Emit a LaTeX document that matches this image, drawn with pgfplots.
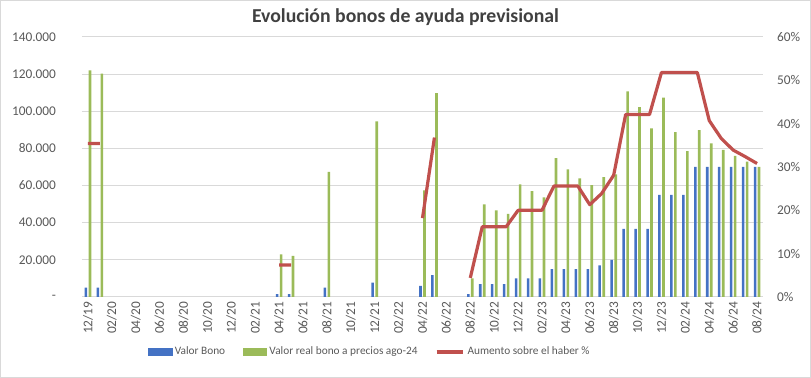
\documentclass[border=0pt]{standalone}
\usepackage{pgfplots}
\pgfplotsset{compat=1.18}
\usepackage{pgfplotstable}
\usepackage{fontspec}
\setmainfont{Carlito}
\definecolor{cblue}{HTML}{4472C4}
\definecolor{cgreen}{HTML}{9BBB59}
\definecolor{cred}{HTML}{C0504D}
\definecolor{ctext}{HTML}{595959}
\definecolor{ctitle}{HTML}{404040}
\definecolor{cgrid}{HTML}{D9D9D9}
\pgfplotstableread{
i bono real pct
0 5000 122000 35.4
1 5000 120300 35.4
2 nan nan nan
16 1500 23000 7.4
17 1500 22100 7.4
20 5100 67300 nan
24 7800 94600 nan
28 6000 57400 18.2
29 11800 109800 36.8
30 nan nan nan
32 1500 10000 4.4
33 6900 49800 16.2
34 6900 46700 16.2
35 6900 44700 16.2
36 10000 60600 20.0
37 10000 57000 20.0
38 10000 53700 20.0
39 15000 74700 25.6
40 15000 68700 25.6
41 15000 63900 25.6
42 15000 60200 21.3
43 17000 64600 23.9
44 20000 66000 28.1
45 36700 110700 42.1
46 36700 102200 42.1
47 36700 90800 42.1
48 55000 107300 51.8
49 55000 88800 51.8
50 55000 78500 51.8
51 70000 89900 51.8
52 70000 82700 40.7
53 70000 79200 36.6
54 70000 76000 33.9
55 70000 72900 32.4
56 70000 70000 30.8
}\data
\begin{document}
\begin{tikzpicture}
\draw[cgrid, line width=0.75pt] (0.4pt,0.4pt) rectangle (607.85pt,283.1pt);
\node[font=\fontsize{14.8}{17}\selectfont\bfseries, text=ctitle] at (304.1pt,270.75pt) {Evolución bonos de ayuda previsional};
\begin{axis}[
  at={(61.5pt,60.75pt)}, anchor=south west,
  width=510.75pt, height=195pt, scale only axis,
  xmin=-0.5, xmax=56.5, ymin=0, ymax=140000,
  axis x line*=bottom, axis y line*=left,
  y axis line style={draw=none},
  x axis line style={draw=cgrid, line width=0.75pt, -},
  major tick length=0pt,
  ymajorgrids, grid style={draw=cgrid, line width=0.75pt},
  tick label style={font=\fontsize{10}{12}\selectfont, text=ctext},
  xtick={0,2,...,56},
  xticklabels={12/19,02/20,04/20,06/20,08/20,10/20,12/20,02/21,04/21,06/21,08/21,10/21,12/21,02/22,04/22,06/22,08/22,10/22,12/22,02/23,04/23,06/23,08/23,10/23,12/23,02/24,04/24,06/24,08/24},
  xticklabel style={rotate=90, anchor=east},
  ytick={0,20000,40000,60000,80000,100000,120000,140000},
  yticklabels={-\hspace{5pt},20.000,40.000,60.000,80.000,100.000,120.000,140.000},
  yticklabel style={xshift=-16pt},
  scaled y ticks=false,
]
\addplot[ybar, bar width=1.9pt, bar shift=-1.5pt, fill=cblue, draw=none] table[x=i,y=bono]{\data};
\addplot[ybar, bar width=2.0pt, bar shift=1.5pt, fill=cgreen, draw=none] table[x=i,y=real]{\data};
\end{axis}
\begin{axis}[
  at={(61.5pt,60.75pt)}, anchor=south west,
  width=510.75pt, height=195pt, scale only axis,
  xmin=-0.5, xmax=56.5, ymin=0, ymax=60,
  axis x line=none, axis y line*=right,
  y axis line style={draw=none},
  major tick length=0pt,
  tick label style={font=\fontsize{10}{12}\selectfont, text=ctext},
  ytick={0,10,20,30,40,50,60},
  yticklabels={0\%,10\%,20\%,30\%,40\%,50\%,60\%},
  yticklabel style={xshift=7pt},
  unbounded coords=jump,
  legend columns=3,
  legend style={draw=none, fill=none, at={(0.423,-0.2115)}, anchor=center,
    font=\fontsize{8.5}{10}\selectfont, text=ctext,
    /tikz/every even column/.append style={column sep=11pt}},
]
\addlegendimage{legend image code/.code={\fill[cblue] (0pt,-2.6pt) rectangle (17.8pt,2.6pt);}}
\addlegendentry{Valor Bono}
\addlegendimage{legend image code/.code={\fill[cgreen] (0pt,-2.6pt) rectangle (17.8pt,2.6pt);}}
\addlegendentry{Valor real bono a precios ago-24}
\addplot[cred, line width=2.4pt, line join=round,
  legend image code/.code={\draw[cred, line width=2.4pt] (0pt,0pt) -- (20pt,0pt);}]
  table[x=i,y=pct]{\data};
\addlegendentry{Aumento sobre el haber \%}
\end{axis}
\end{tikzpicture}
\end{document}
